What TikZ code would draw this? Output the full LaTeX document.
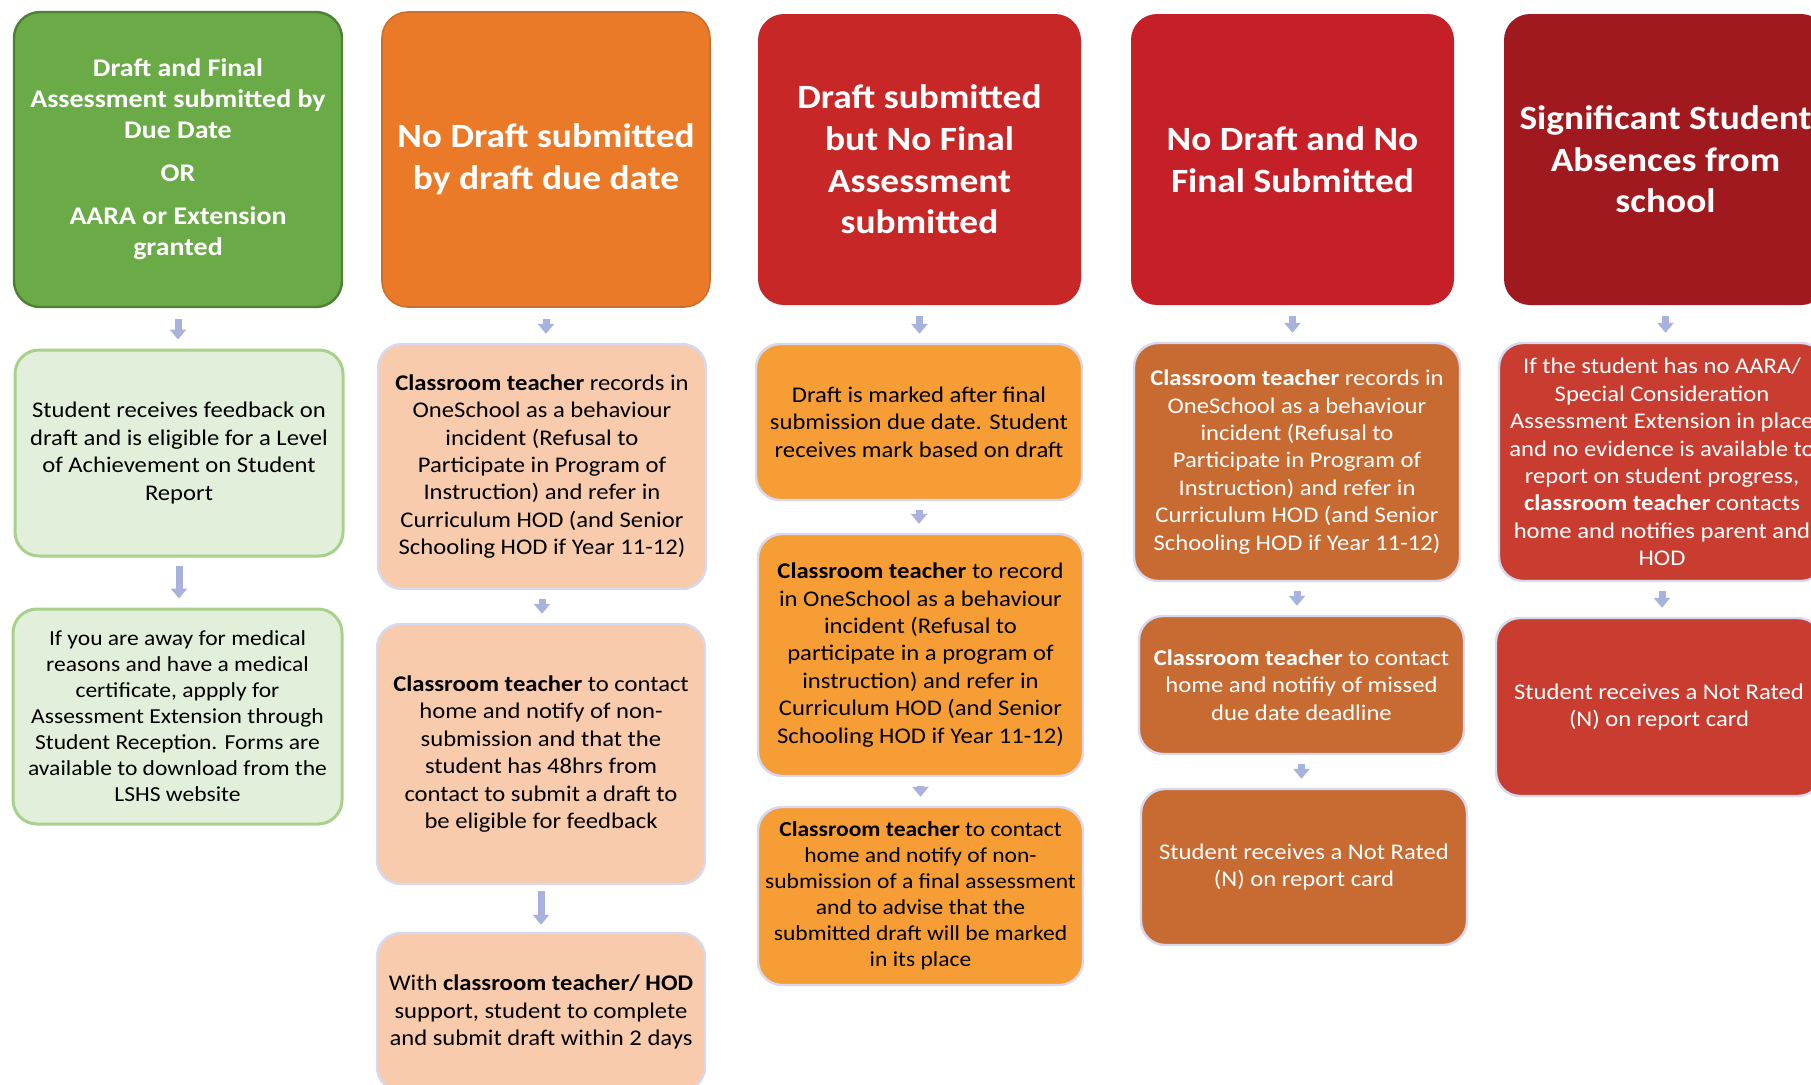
\documentclass[tikz,border=0pt]{standalone}
\usepackage{fontspec}
\setmainfont{Carlito}[FakeStretch=1.1]
\usetikzlibrary{arrows.meta}
\definecolor{hgreen}{HTML}{6AAB47}
\definecolor{hgreenb}{HTML}{4F7F32}
\definecolor{horange}{HTML}{EA7A28}
\definecolor{horangeb}{HTML}{C8702E}
\definecolor{hredA}{HTML}{C72727}
\definecolor{hredB}{HTML}{C51F28}
\definecolor{hredC}{HTML}{A0191E}
\definecolor{lgreen}{HTML}{E2EFDA}
\definecolor{lgreenb}{HTML}{A9D18E}
\definecolor{peach}{HTML}{F8CBAD}
\definecolor{lavb}{HTML}{D6D9EF}
\definecolor{orng}{HTML}{F69E35}
\definecolor{burnt}{HTML}{C86B32}
\definecolor{redbox}{HTML}{C93D31}
\definecolor{arrowc}{HTML}{A8B3DD}
\tikzset{
  hdr/.style={rectangle, rounded corners=13pt, align=center, text=white,
    font=\bfseries\fontsize{17}{20.8}\selectfont, inner sep=0pt},
  bodybox/.style={rectangle, rounded corners=12pt, align=center, inner sep=0pt,
    font=\fontsize{11.2}{13.7}\selectfont, draw=lavb, line width=1.2pt},
  flowarr/.style={draw=arrowc, line width=3.5pt, -{Triangle[width=8pt,length=5pt]},
    shorten <=4.5pt, shorten >=4.5pt},
  hflowarr/.style={flowarr, shorten <=5.5pt}
}
\begin{document}
\begin{tikzpicture}[x=0.5pt,y=-0.5pt]
\useasboundingbox (0,0) rectangle (1811,1084);
\clip (0,0) rectangle (1811,1084);
\fill[white] (0,0) rectangle (1811,1084);

% headers
\node[hdr, fill=hgreen, draw=hgreenb, line width=1.2pt, minimum width=164pt, minimum height=147.5pt,
  font=\bfseries\fontsize{12.7}{15.3}\selectfont] (h1) at (178,159.5)
  {Draft and Final\\ Assessment submitted by\\ Due Date\\[6.4pt] OR\\[6.4pt] AARA or Extension\\ granted};
\node[hdr, fill=horange, draw=horangeb, line width=0.8pt, minimum width=164pt, minimum height=147.5pt] (h2) at (546,159.5)
  {No Draft submitted\\ by draft due date};
\node[hdr, fill=hredA, minimum width=161.5pt, minimum height=145.5pt] (h3) at (919.5,159.5)
  {Draft submitted\\ but No Final\\ Assessment\\ submitted};
\node[hdr, fill=hredB, minimum width=161.5pt, minimum height=145.5pt] (h4) at (1292.5,159.5)
  {No Draft and No\\ Final Submitted};
\node[hdr, fill=hredC, minimum width=161.5pt, minimum height=145.5pt] (h5) at (1665.5,159.5)
  {Significant Student\\ Absences from\\ school};

% column 1
\node[bodybox, fill=lgreen, draw=lgreenb, line width=1.5pt, minimum width=164pt, minimum height=103pt] (g2) at (179,453)
  {Student receives feedback on\\ draft and is eligible for a Level\\ of Achievement on Student\\ Report};
\node[bodybox, fill=lgreen, draw=lgreenb, line width=1.5pt, minimum width=164.5pt, minimum height=107.5pt,
  font=\fontsize{10.7}{13}\selectfont] (g3) at (177.5,716.5)
  {If you are away for medical\\ reasons and have a medical\\ certificate, appply for\\ Assessment Extension through\\ Student Reception. Forms are\\ available to download from the\\ LSHS website};

% column 2
\node[bodybox, fill=peach, minimum width=164pt, minimum height=122.5pt] (p2) at (542,466.5)
  {\textbf{Classroom teacher} records in\\ OneSchool as a behaviour\\ incident (Refusal to\\ Participate in Program of\\ Instruction) and refer in\\ Curriculum HOD (and Senior\\ Schooling HOD if Year 11-12)};
\node[bodybox, fill=peach, minimum width=164pt, minimum height=130pt] (p3) at (541,754)
  {\textbf{Classroom teacher} to contact\\ home and notify of non-\\ submission and that the\\ student has 48hrs from\\ contact to submit a draft to\\ be eligible for feedback};
\node[bodybox, fill=peach, minimum width=164pt, minimum height=79pt] (p4) at (541,1012)
  {With \textbf{classroom teacher/ HOD}\\ support, student to complete\\ and submit draft within 2 days};

% column 3
\node[bodybox, fill=orng, minimum width=163pt, minimum height=78pt] (o2) at (919,422)
  {Draft is marked after final\\ submission due date. Student\\ receives mark based on draft};
\node[bodybox, fill=orng, minimum width=162.5pt, minimum height=121pt] (o3) at (920.5,655)
  {\textbf{Classroom teacher} to record\\ in OneSchool as a behaviour\\ incident (Refusal to\\ participate in a program of\\ instruction) and refer in\\ Curriculum HOD (and Senior\\ Schooling HOD if Year 11-12)};
\node[bodybox, fill=orng, minimum width=162.5pt, minimum height=89pt,
  font=\fontsize{10.7}{13}\selectfont] (o4) at (920.5,896)
  {\textbf{Classroom teacher} to contact\\ home and notify of non-\\ submission of a final assessment\\ and to advise that the\\ submitted draft will be marked\\ in its place};

% column 4
\node[bodybox, fill=burnt, text=white, minimum width=163pt, minimum height=119pt] (b2) at (1297,462)
  {\textbf{Classroom teacher} records in\\ OneSchool as a behaviour\\ incident (Refusal to\\ Participate in Program of\\ Instruction) and refer in\\ Curriculum HOD (and Senior\\ Schooling HOD if Year 11-12)};
\node[bodybox, fill=burnt, text=white, minimum width=162.5pt, minimum height=69pt] (b3) at (1301.5,685)
  {\textbf{Classroom teacher} to contact\\ home and notifiy of missed\\ due date deadline};
\node[bodybox, fill=burnt, text=white, minimum width=163pt, minimum height=78pt] (b4) at (1304,867)
  {Student receives a Not Rated\\ (N) on report card};

% column 5
\node[bodybox, fill=redbox, text=white, minimum width=163pt, minimum height=119pt] (r2) at (1662,462)
  {If the student has no AARA/\\ Special Consideration\\ Assessment Extension in place\\ and no evidence is available to\\ report on student progress,\\ \textbf{classroom teacher} contacts\\ home and notifies parent and\\ HOD};
\node[bodybox, fill=redbox, text=white, minimum width=163pt, minimum height=89pt] (r3) at (1659,707)
  {Student receives a Not Rated\\ (N) on report card};

% arrows
\draw[hflowarr] (h1.south) -- (h1.south |- g2.north);
\draw[flowarr, shorten <=4pt, shorten >=4.5pt] (g2.south) -- (g2.south |- g3.north);
\draw[hflowarr] (h2.south) -- (h2.south |- p2.north);
\draw[flowarr] (p2.south) -- (p2.south |- p3.north);
\draw[flowarr, shorten <=3pt, shorten >=3.5pt] (p3.south) -- (p3.south |- p4.north);
\draw[hflowarr] (h3.south) -- (h3.south |- o2.north);
\draw[flowarr] (o2.south) -- (o2.south |- o3.north);
\draw[flowarr] (o3.south) -- (o3.south |- o4.north);
\draw[hflowarr] (h4.south) -- (h4.south |- b2.north);
\draw[flowarr] (b2.south) -- (b2.south |- b3.north);
\draw[flowarr] (b3.south) -- (b3.south |- b4.north);
\draw[hflowarr] (h5.south) -- (h5.south |- r2.north);
\draw[flowarr] (r2.south) -- (r2.south |- r3.north);
\end{tikzpicture}
\end{document}
